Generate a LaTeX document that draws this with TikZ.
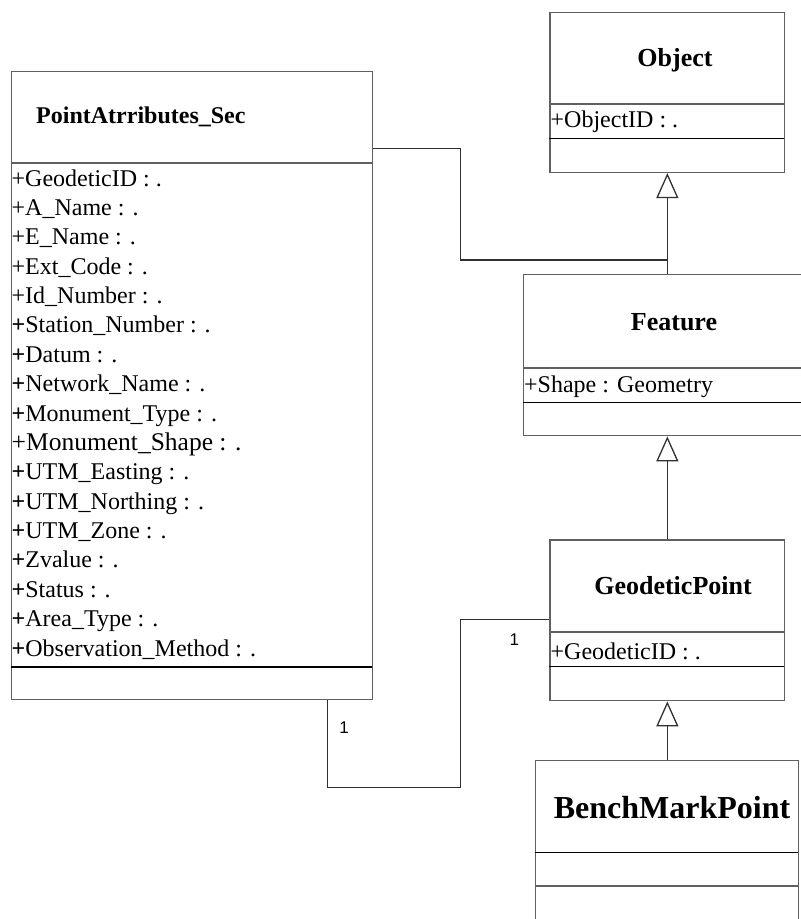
\documentclass[tikz,border=0pt]{standalone}
\usepackage{fontspec}
\setmainfont{Liberation Serif}
\newfontfamily\multfont{Liberation Sans}
\usetikzlibrary{calc,arrows.meta}

\definecolor{boxgray}{HTML}{606060}
\definecolor{linegray}{HTML}{303030}

\begin{document}
\begin{tikzpicture}[x=1pt,y=-1pt,
  classbox/.style={draw=boxgray, line width=1.4pt, rectangle, inner sep=0pt,
    anchor=north west, fill=white},
  headline/.style={draw=boxgray, line width=1.6pt},
  attrline/.style={draw=black, line width=1.3pt},
  classname/.style={font=\bfseries\fontsize{26}{30}\selectfont, inner sep=0pt, anchor=base},
  attr/.style={font=\fontsize{24}{28}\selectfont, inner sep=0pt, anchor=base west},
  conn/.style={draw=linegray, line width=1.3pt},
  gen/.style={conn, -{Triangle[open, length=25pt, width=22pt, line width=1.3pt]}},
  mult/.style={font=\multfont\fontsize{17}{20}\selectfont, inner sep=0pt},
  bp/.style={\bfseries}
]
\useasboundingbox (0,0) rectangle (801,919);
\clip (0,0) rectangle (801,919);

% class boxes
\node[classbox, minimum width=361.3pt, minimum height=628.3pt] (pas) at (10.7,70.7) {};
\node[classbox, minimum width=234.7pt, minimum height=160pt] (obj) at (549.3,11.7) {};
\node[classbox, minimum width=300pt, minimum height=161pt] (feat) at (522.7,274) {};
\node[classbox, minimum width=234.7pt, minimum height=160.7pt] (geo) at (549.3,539.3) {};
\node[classbox, minimum width=262.7pt, minimum height=200pt] (bench) at (535,760) {};

% compartment dividers
\draw[headline] (10.7,163) -- (372,163);
\draw[attrline] (10.7,667) -- (372,667);
\draw[headline] (549.3,104) -- (784,104);
\draw[attrline] (549.3,138.3) -- (784,138.3);
\draw[headline] (522.7,368) -- (823,368);
\draw[attrline] (522.7,402.7) -- (823,402.7);
\draw[headline] (549.3,632) -- (784,632);
\draw[attrline] (549.3,666.3) -- (784,666.3);
\draw[attrline] (535,852.7) -- (797.7,852.7);
\draw[headline] (535,886) -- (797.7,886);

% class names
\node[classname, anchor=base west, font=\bfseries\fontsize{24}{28}\selectfont] (pasname) at (36,123.3) {PointAtrributes\_Sec};
\node[classname] (objname) at (675,66.7) {Object};
\node[classname] (featname) at (674,330.7) {Feature};
\node[classname] (geoname) at (673,594) {GeodeticPoint};
\node[classname, font=\bfseries\fontsize{32}{36}\selectfont] (benchname) at (672,818.3) {BenchMarkPoint};

% attributes
\node[attr] (objattr) at (550.5,127.5) {+ObjectID : .};
\node[attr] (featattr) at (524,392) {+Shape : Geometry};
\node[attr] (geoattr) at (550.5,659.3) {+GeodeticID : .};

\foreach \i/\txt in {0/{+GeodeticID : .}, 1/{+A\_Name : .}, 2/{+E\_Name : .},
  3/{+Ext\_Code : .}, 4/{+Id\_Number : .},
  5/{\textbf{+}Station\_Number : .}, 6/{\textbf{+}Datum : .},
  7/{\textbf{+}Network\_Name : .}, 8/{\textbf{+}Monument\_Type : .},
  9/{{\fontsize{25.5}{29}\selectfont +Monument\_Shape : .}},
  10/{\textbf{+}UTM\_Easting : .}, 11/{\textbf{+}UTM\_Northing : .},
  12/{\textbf{+}UTM\_Zone : .}, 13/{\textbf{+}Zvalue : .},
  14/{\textbf{+}Status : .}, 15/{\textbf{+}Area\_Type : .},
  16/{\textbf{+}Observation\_Method : .}}
  \node[attr] (pasattr\i) at (11.5,186+29.375*\i) {\txt};

% generalizations
\draw[gen] (obj.south |- feat.north) -- (obj.south);
\draw[gen] (geo.north) -- (geo.north |- feat.south);
\draw[gen] (geo.south |- bench.north) -- (geo.south);

% link from PointAtrributes_Sec into the Feature/Object line
\coordinate (linkA) at (460.7,148.3);
\coordinate (linkB) at (460.7,260);
\draw[conn] (pas.east |- linkA) -- (linkA) -- (linkB) -- (obj.south |- linkB);

% association PointAtrributes_Sec -- GeodeticPoint
\coordinate (assocA) at (460.7,787.7);
\coordinate (assocB) at (460.7,619.3);
\draw[conn] ($(pas.south west)+(316.6,0)$) |- (assocA) -- (assocB) -- (geo.west |- assocB);

% multiplicities
\node[mult] (m1) at (344,728) {1};
\node[mult] (m2) at (514.3,640) {1};
\end{tikzpicture}
\end{document}
